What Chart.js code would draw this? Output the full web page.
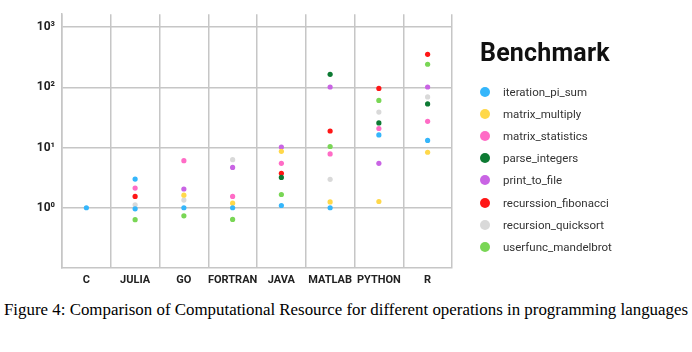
<!DOCTYPE html>
<html>
<head>
<meta charset="utf-8">
<script src="https://cdn.jsdelivr.net/npm/chart.js@4"></script>
<style>
    body { margin: 0; background: #fff; width: 692px; height: 352px; overflow: hidden; position: relative; }
    #wrap { position: absolute; left: 0; top: 0; width: 692px; height: 292px; }
    #legend { position: absolute; left: 480px; top: 38px; font-family: Roboto, sans-serif; }
    #legend .title { font-size: 25px; font-weight: bold; color: #111; margin-bottom: 14px; letter-spacing: 0.2px; }
    #legend .item { height: 22.1px; display: flex; align-items: center; font-size: 11.5px; color: #333; }
    #legend .dot { width: 10px; height: 10px; border-radius: 50%; margin-right: 13px; }
    #caption { position: absolute; left: 0; top: 300px; width: 692px; text-align: center;
        font-family: "Liberation Serif", "Times New Roman", serif; font-size: 16.9px; color: #000; white-space: nowrap; }
</style>
</head>
<body>
<div id="wrap"><canvas id="chart" width="692" height="292"></canvas></div>
<div id="legend"></div>
<div id="caption">Figure 4: Comparison of Computational Resource for different operations in programming languages</div>
<script>
const languages = ["C", "JULIA", "GO", "FORTRAN", "JAVA", "MATLAB", "PYTHON", "R"];
const yTickValues = [1, 10, 100, 1000];

// one value per language, null = no point, a list = several points
const iterationPiSum = [1.0, [0.96, 2.99], 1.0, 1.0, 1.09, 1.0, 16.2, 13.1];
const matrixMultiply = [null, null, 1.62, 1.19, 8.65, 1.25, 1.27, 8.34];
const matrixStatistics = [null, 2.12, 6.05, 1.54, 5.47, 7.83, 20.7, 27.2];
const parseIntegers = [null, null, null, null, 3.19, 164, 25.6, 53];
const printToFile = [null, null, 2.05, 4.67, 10.2, 101, 5.47, 101];
const recurssionFibonacci = [null, 1.54, null, null, 3.74, 18.8, 95.6, 352];
const recursionQuicksort = [null, 1.12, 1.34, 6.28, null, 2.96, 38.8, 69.3];
const userfuncMandelbrot = [null, 0.635, 0.736, 0.64, 1.66, 10.4, 60.5, 241];

const series = [
    ["iteration_pi_sum", iterationPiSum, "#35b6fb"],
    ["matrix_multiply", matrixMultiply, "#ffd84a"],
    ["matrix_statistics", matrixStatistics, "#ff6cc6"],
    ["parse_integers", parseIntegers, "#0d7a33"],
    ["print_to_file", printToFile, "#c964e4"],
    ["recurssion_fibonacci", recurssionFibonacci, "#ff1616"],
    ["recursion_quicksort", recursionQuicksort, "#d9d9d9"],
    ["userfunc_mandelbrot", userfuncMandelbrot, "#79d655"]
];

function toPoints(values) {
    const pts = [];
    values.forEach((v, i) => {
        if (v === null) return;
        [].concat(v).forEach(y => pts.push({ x: languages[i], y: y }));
    });
    return pts;
}

const sup = ["\u2070", "\u00b9", "\u00b2", "\u00b3"];
const gridColor = "#c6c6c6";

new Chart(document.getElementById("chart"), {
    type: "scatter",
    data: {
        labels: languages,
        datasets: series.map(([name, values, color]) => ({
            label: name,
            data: toPoints(values),
            backgroundColor: color,
            borderWidth: 0,
            pointRadius: 2.6
        }))
    },
    options: {
        responsive: false,
        animation: false,
        layout: { padding: { left: 0, right: 240, top: 5, bottom: 0 } },
        plugins: { legend: { display: false }, tooltip: { enabled: false } },
        scales: {
            x: {
                type: "category",
                labels: languages,
                offset: true,
                grid: { offset: true, color: gridColor, lineWidth: 1.5, drawTicks: false },
                border: { color: gridColor, width: 1.5 },
                ticks: {
                    color: "#222", font: { family: "Roboto", size: 11, weight: "bold" }, padding: 6,
                    maxRotation: 0, minRotation: 0, autoSkip: false
                },
                afterFit: s => { s.height = 292 - 5 - 263; }
            },
            y: {
                type: "logarithmic",
                min: 0.1,
                max: 1634,
                afterBuildTicks: s => { s.ticks = yTickValues.map(v => ({ value: v })); },
                grid: { color: gridColor, lineWidth: 1.5, drawTicks: false },
                border: { color: gridColor, width: 1.5 },
                ticks: {
                    color: "#222",
                    font: { family: "Roboto", size: 12, weight: "bold" },
                    padding: 7,
                    callback: v => "10" + sup[Math.round(Math.log10(v))]
                },
                afterFit: s => { s.width = 62; }
            }
        }
    }
});

const legend = document.getElementById("legend");
legend.innerHTML = '<div class="title">Benchmark</div>' + series.map(([name, , color]) =>
    '<div class="item"><span class="dot" style="background:' + color + '"></span>' + name + '</div>').join("");
</script>
</body>
</html>
